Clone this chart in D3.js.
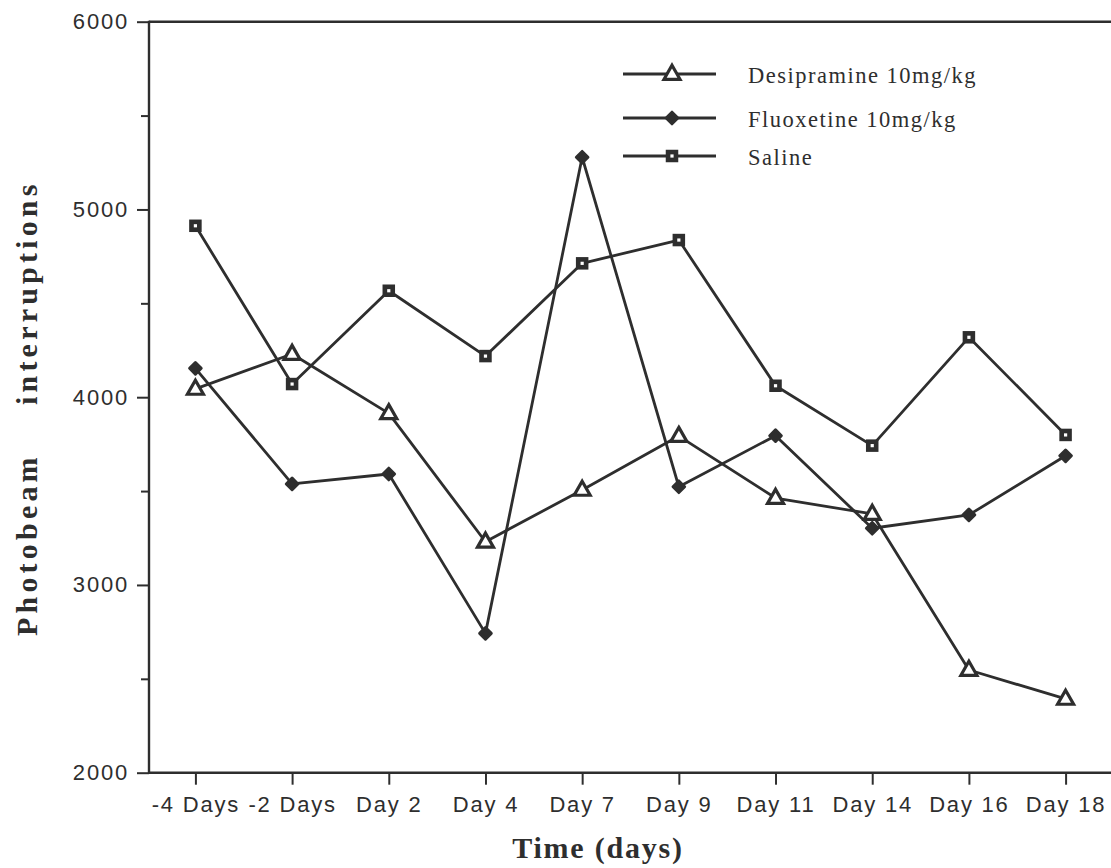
<!DOCTYPE html>
<html>
<head>
<meta charset="utf-8">
<script src="https://cdn.jsdelivr.net/npm/d3@7/dist/d3.min.js"></script>
<style>
  html, body { margin: 0; padding: 0; background: #fff; }
  svg { display: block; }
</style>
</head>
<body>
<svg id="chart" width="1111" height="868"></svg>
<script>
// Time points of the study
const days = ["-4 Days", "-2 Days", "Day 2", "Day 4", "Day 7", "Day 9", "Day 11", "Day 14", "Day 16", "Day 18"];

// Photobeam interruptions per treatment group
const desipramine = [4044, 4230, 3914, 3230, 3506, 3793, 3463, 3378, 2547, 2393];
const fluoxetine  = [4154, 3538, 3591, 2742, 5278, 3523, 3795, 3302, 3373, 3688];
const saline      = [4913, 4070, 4567, 4219, 4713, 4837, 4061, 3742, 4319, 3799];

const seriesNames = ["Desipramine 10mg/kg", "Fluoxetine 10mg/kg", "Saline"];
const seriesMarkers = ["triangle", "diamond", "square"];

// Y axis ticks
const yMajorTicks = [2000, 3000, 4000, 5000, 6000];
const yMinorTicks = [2500, 3500, 4500, 5500];

const ink = "#2e2e2e";
const svg = d3.select("#chart");

const x = d3.scalePoint().domain(days).range([149, 1112]).padding(0.48);
const y = d3.scaleLinear().domain([2000, 6000]).range([772.7, 21.7]);

const sansFont = "'Liberation Sans', Arial, Helvetica, sans-serif";
const serifFont = "'Liberation Serif', 'Times New Roman', Times, serif";

// Top frame line
svg.append("line")
  .attr("x1", 149).attr("x2", 1111)
  .attr("y1", y(6000)).attr("y2", y(6000))
  .attr("stroke", ink).attr("stroke-width", 2.4);

// X axis
const xAxis = svg.append("g")
  .attr("transform", `translate(0,${y(2000)})`)
  .call(d3.axisBottom(x).tickSize(12).tickSizeOuter(0).tickPadding(12));
xAxis.select(".domain").remove();
xAxis.append("line")
  .attr("x1", 149).attr("x2", 1111).attr("y1", 0).attr("y2", 0)
  .attr("stroke", ink).attr("stroke-width", 2.4);
xAxis.selectAll(".tick line").attr("stroke", ink).attr("stroke-width", 2);
xAxis.selectAll(".tick text")
  .attr("fill", ink)
  .style("font-family", sansFont)
  .style("font-size", "22px")
  .style("letter-spacing", "1.8px");

// Y axis (major ticks with labels)
const yAxis = svg.append("g")
  .attr("transform", "translate(149,0)")
  .call(d3.axisLeft(y).tickValues(yMajorTicks).tickSize(12).tickPadding(8).tickFormat(d3.format("d")));
yAxis.select(".domain").remove();
yAxis.append("line")
  .attr("x1", 0).attr("x2", 0).attr("y1", y(6000) - 1).attr("y2", y(2000) + 1)
  .attr("stroke", ink).attr("stroke-width", 2.4);
yAxis.selectAll(".tick line").attr("stroke", ink).attr("stroke-width", 2);
yAxis.selectAll(".tick text")
  .attr("fill", ink)
  .style("font-family", sansFont)
  .style("font-size", "22px")
  .style("letter-spacing", "1.8px");

// Y axis minor ticks
const yMinor = svg.append("g")
  .attr("transform", "translate(149,0)")
  .call(d3.axisLeft(y).tickValues(yMinorTicks).tickSize(8).tickFormat(""));
yMinor.select(".domain").remove();
yMinor.selectAll(".tick line").attr("stroke", ink).attr("stroke-width", 2);

// Axis titles
svg.append("text")
  .attr("x", 598).attr("y", 858)
  .attr("text-anchor", "middle")
  .attr("fill", ink)
  .style("font-family", serifFont)
  .style("font-weight", "bold")
  .style("font-size", "30px")
  .style("letter-spacing", "1.8px")
  .text("Time (days)");

[["Photobeam", 636], ["interruptions", 405]].forEach(([word, pos]) => {
  svg.append("text")
    .attr("transform", `translate(37,${pos}) rotate(-90)`)
    .attr("text-anchor", "start")
    .attr("fill", ink)
    .style("font-family", serifFont)
    .style("font-weight", "bold")
    .style("font-size", "30px")
    .style("letter-spacing", "4.2px")
    .text(word);
});

// Marker drawing
function drawMarker(g, type, cx, cy) {
  if (type === "triangle") {
    const w = 16, h = 14;
    g.append("path")
      .attr("d", `M${cx},${cy - h * 0.62} L${cx + w / 2},${cy + h * 0.38} L${cx - w / 2},${cy + h * 0.38} Z`)
      .attr("fill", "#fff").attr("stroke", ink).attr("stroke-width", 3.2)
      .attr("stroke-linejoin", "miter");
  } else if (type === "diamond") {
    const r = 5.8;
    g.append("path")
      .attr("d", `M${cx},${cy - r} L${cx + r},${cy} L${cx},${cy + r} L${cx - r},${cy} Z`)
      .attr("fill", ink).attr("stroke", ink).attr("stroke-width", 3)
      .attr("stroke-linejoin", "round");
  } else {
    const s = 12.5;
    g.append("rect")
      .attr("x", cx - s / 2).attr("y", cy - s / 2)
      .attr("width", s).attr("height", s)
      .attr("fill", ink);
    g.append("rect")
      .attr("x", cx - 1.6).attr("y", cy - 1.6)
      .attr("width", 3.2).attr("height", 3.2)
      .attr("fill", "#fff");
  }
}

const allSeries = [desipramine, fluoxetine, saline];
const line = d3.line().x((d, i) => x(days[i])).y(d => y(d));

const plot = svg.append("g");
allSeries.forEach(vals => {
  plot.append("path")
    .datum(vals)
    .attr("d", line)
    .attr("fill", "none")
    .attr("stroke", ink)
    .attr("stroke-width", 2.8)
    .attr("stroke-linejoin", "round");
});
allSeries.forEach((vals, k) => {
  const g = plot.append("g");
  vals.forEach((v, i) => drawMarker(g, seriesMarkers[k], x(days[i]), y(v)));
});

// Legend
const legendRows = [74, 118, 156];
const legend = svg.append("g");
seriesNames.forEach((name, k) => {
  const ly = legendRows[k];
  legend.append("line")
    .attr("x1", 623).attr("x2", 716).attr("y1", ly).attr("y2", ly)
    .attr("stroke", ink).attr("stroke-width", 2.8);
  drawMarker(legend, seriesMarkers[k], 672, ly);
  legend.append("text")
    .attr("x", 748).attr("y", ly + 9)
    .attr("fill", ink)
    .style("font-family", serifFont)
    .style("font-size", "22.5px")
    .style("letter-spacing", "1.5px")
    .text(name);
});
</script>
</body>
</html>
